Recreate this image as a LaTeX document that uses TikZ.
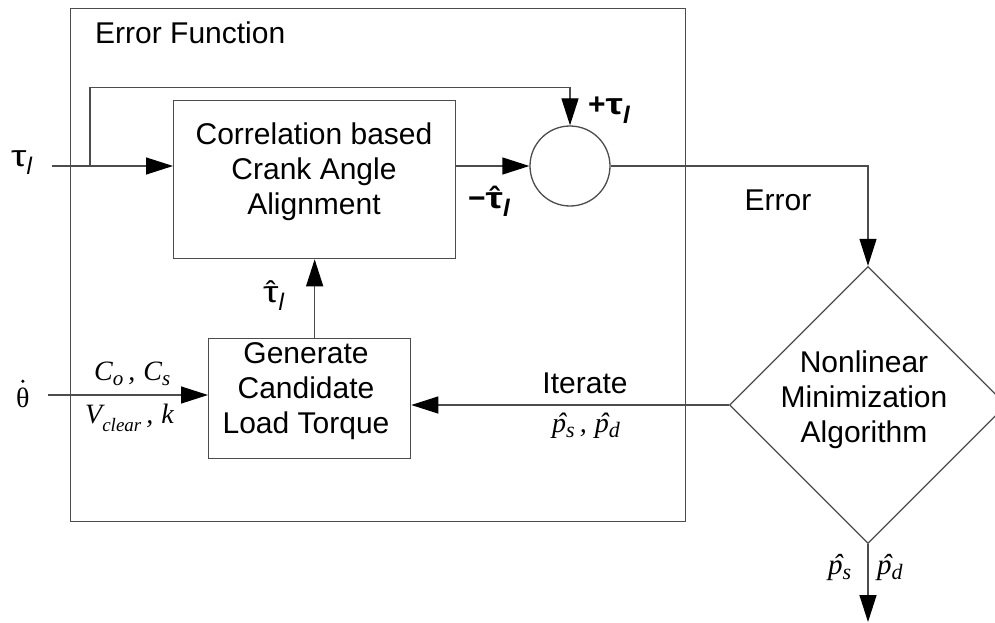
\documentclass[tikz,border=0pt]{standalone}
\usepackage{fontspec}
\usepackage{graphicx}
\setmainfont{Liberation Sans}
\newfontfamily\serif{Liberation Serif}
\usetikzlibrary{arrows.meta,shapes.geometric,calc}
\newcommand\hatover[2][0pt]{\ooalign{#2\cr\hidewidth\kern#1ˆ\hidewidth\cr}}
\newcommand\lowsub[3][-0.28em]{\raisebox{#1}{\fontsize{#2}{#2}\selectfont #3}}
\newcommand\wtau{\scalebox{1.3}[1]{τ}}
\newcommand\sep{\hspace{5pt},\hspace{8pt}}
\begin{document}
\begin{tikzpicture}[x=1pt,y=-1pt,
  line/.style={draw=black!70, line width=1.3pt},
  arr/.style={line, -{Triangle[length=27pt,width=17pt,color=black,fill=black]}},
  box/.style={line, anchor=north west, inner sep=0pt},
  txt/.style={inner sep=0pt, font=\fontsize{30}{35}\selectfont, align=center},
  sym/.style={inner sep=0pt, anchor=base west, font=\fontsize{30}{35}\selectfont},
  mth/.style={inner sep=0pt, anchor=base west, font=\serif\itshape\fontsize{28}{30}\selectfont}
]
\fill[white] (0,0) rectangle (995,623);
\useasboundingbox (0,0) rectangle (995,623);

% boxes
\node[box, minimum width=615pt, minimum height=513pt] (outer) at (70,8) {};
\node[txt, anchor=west] (title) at (95,33) {Error Function};
\node[box, minimum width=282pt, minimum height=158pt] (corr) at (173,100) {};
\node[txt] (corrt) at (314,172) {Correlation based\\Crank Angle\\Alignment};
\node[box, minimum width=202pt, minimum height=120pt] (gen) at (208,338) {};
\node[txt] (gent) at (306,391) {Generate\\Candidate\\Load Torque};
\node[line, circle, minimum size=80pt, inner sep=0pt] (sum) at (570,166) {};
\node[line, diamond, aspect=1, minimum size=277pt, inner sep=0pt] (dia) at (868,405) {};
\node[txt] (diat) at (864,400) {Nonlinear\\Minimization\\Algorithm};

% text labels
\node[txt] (errl) at (778,200) {Error};
\node[txt] (iter) at (585,383) {Iterate};

% symbol labels
\node[sym] (taul) at (11,166) {\wtau\lowsub{24}{\itshape l}};
\node[sym, font=\bfseries\fontsize{30}{35}\selectfont] (plus) at (588,115) {+\wtau\lowsub{24}{\bfseries\itshape l}};
\node[sym, font=\bfseries\fontsize{30}{35}\selectfont] (minus) at (468,208) {−\hatover{\wtau}\lowsub{24}{\bfseries\itshape l}};
\node[sym] (tauh) at (263,302) {\hatover{\wtau}\lowsub{24}{\itshape l}};
\node[sym, font=\serif\fontsize{28}{30}\selectfont] (thd) at (16,407) {θ};
\fill[black] ($(thd.north)+(0,-6)$) circle[radius=1.8];
\node[mth] (cc) at (94,380) {C\lowsub[-0.2em]{21}{o}\sep C\lowsub[-0.2em]{21}{s}};
\node[mth] (vk) at (85,423) {V\lowsub[-0.3em]{19}{clear}\sep k};
\node[mth] (pp) at (552,432) {\hatover[0.15em]{p}\lowsub[-0.2em]{22}{s}\sep\hatover[0.15em]{p}\lowsub[-0.2em]{22}{d}};
\node[mth, font=\serif\itshape\fontsize{29}{30}\selectfont] (ps) at (828,574) {\hatover[0.15em]{p}\lowsub[-0.2em]{22}{s}};
\node[mth, font=\serif\itshape\fontsize{29}{30}\selectfont] (pd) at (877,574) {\hatover[0.15em]{p}\lowsub[-0.2em]{22}{d}};

% connectors
\coordinate (tin) at (52,166);
\coordinate (br) at (90,166);
\draw[arr] (tin) -- (tin -| corr.west);
\draw[arr] (br) |- ($(sum.north)+(0,-38)$) -- (sum.north);
\draw[arr] (corr.east |- sum.west) -- (sum.west);
\draw[arr] (sum.east) -| (dia.north);
\draw[arr] (dia.west) -- (dia.west -| gen.east);
\draw[arr] (corr.south |- gen.north) -- (corr.south);
\coordinate (thin) at (48,395);
\draw[arr] (thin) -- (thin -| gen.west);
\coordinate (out) at (868,622);
\draw[arr] (dia.south) -- (out);
\end{tikzpicture}
\end{document}
